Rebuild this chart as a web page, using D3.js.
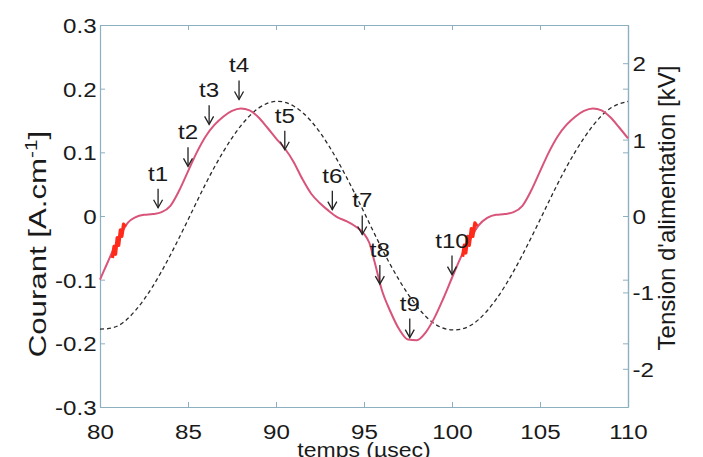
<!DOCTYPE html>
<html><head><meta charset="utf-8">
<script src="https://cdn.jsdelivr.net/npm/d3@7"></script>
<style>
body{margin:0;background:#fff}
svg{display:block}
text{font-family:"Liberation Sans",Arial,Helvetica,sans-serif;fill:#1a1a1a}
</style>
</head><body>
<svg id="chart" width="703" height="457"></svg>
<script>
// ---- data ----
const timeCur = [80,80.4,80.8,81.2,81.6,82,82.5,83,83.5,84,84.5,85,85.5,86,86.5,87,87.5,88,88.5,89,89.5,90,90.5,91,91.5,92,92.5,93,93.5,94,94.5,95,95.3,95.6,96,96.5,97,97.5,98,98.5,99,99.5,100,100.5,101,101.5,102,102.5,103,103.5,104,104.5,105,105.5,106,106.5,107,107.5,108,108.5,109,109.5,110];
const current = [-0.1,-0.075,-0.05,-0.028,-0.01,-0.002,0.002,0.003,0.006,0.016,0.04,0.07,0.1,0.125,0.143,0.156,0.165,0.169,0.166,0.155,0.139,0.122,0.106,0.085,0.058,0.035,0.02,0.008,-0.002,-0.008,-0.016,-0.028,-0.042,-0.072,-0.115,-0.15,-0.178,-0.194,-0.195,-0.183,-0.16,-0.13,-0.097,-0.065,-0.038,-0.015,-0.003,0.002,0.003,0.006,0.016,0.04,0.07,0.1,0.125,0.143,0.156,0.165,0.169,0.166,0.155,0.139,0.122];

const timeVolt = [80,81,82,83,84,85,86,87,88,89,90,91,92,93,94,95,96,97,98,99,100,101,102,103,104,105,106,107,108,109,110];
const voltage = [-1.48,-1.44,-1.24,-0.92,-0.51,-0.05,0.42,0.84,1.18,1.41,1.5,1.44,1.24,0.92,0.51,0.05,-0.42,-0.84,-1.18,-1.41,-1.49,-1.44,-1.24,-0.92,-0.51,-0.05,0.42,0.84,1.18,1.41,1.5];

const spike1Time = [80.7,80.8,80.88,80.98,81.06,81.16,81.24,81.34,81.45];
const spike1Cur  = [-0.066,-0.048,-0.06,-0.034,-0.046,-0.022,-0.032,-0.013,-0.017];
const spike2Time = [100.6,100.7,100.78,100.9,100.98,101.1,101.18,101.3,101.42];
const spike2Cur  = [-0.064,-0.046,-0.058,-0.032,-0.046,-0.02,-0.032,-0.011,-0.016];

const markLabels = ["t1","t2","t3","t4","t5","t6","t7","t8","t9","t10"];
const markTime   = [83.3,85.0,86.2,87.9,90.5,93.2,94.9,95.9,97.6,100.0];
const markCur    = [0.013,0.078,0.144,0.183,0.104,0.010,-0.029,-0.107,-0.191,-0.092];

const xTicks = [80,85,90,95,100,105,110];
const yLeftTicks = [-0.3,-0.2,-0.1,0,0.1,0.2,0.3];
const yRightTicks = [-2,-1,0,1,2];

// ---- layout ----
const L = 100, R = 628, T = 25, B = 407;
const SX = 1.15;         // horizontal stretch of the glyphs in the reference
const axisCol = "#8db0c0";
const curCol = "#d9547a";

const svg = d3.select("#chart");
const x = d3.scaleLinear().domain([80,110]).range([L,R]);
const yL = d3.scaleLinear().domain([-0.3,0.3]).range([B,T]);
const yR = d3.scaleLinear().domain([-2.5,2.5]).range([B,T]);

function styleAxis(g){
  g.selectAll("path.domain").attr("stroke", axisCol).attr("stroke-width",1.2);
  g.selectAll(".tick line").attr("stroke", axisCol).attr("stroke-width",1);
  g.selectAll(".tick text").style("font-size","21px").attr("fill","#1a1a1a");
}

// bottom
const gB = svg.append("g").attr("transform",`translate(0,${B})`)
  .call(d3.axisBottom(x).tickValues(xTicks).tickSize(-5).tickSizeOuter(0).tickFormat(d=>String(d)));
styleAxis(gB);
gB.selectAll(".tick text").attr("y",32).attr("dy",0).attr("transform",`scale(${SX},1)`);
// top (mirror)
const gT = svg.append("g").attr("transform",`translate(0,${T})`)
  .call(d3.axisTop(x).tickValues(xTicks).tickSize(-5).tickSizeOuter(0).tickFormat(""));
styleAxis(gT);
// left
const gL = svg.append("g").attr("transform",`translate(${L},0)`)
  .call(d3.axisLeft(yL).tickValues(yLeftTicks).tickSize(-5).tickSizeOuter(0)
    .tickFormat(d=> d===0 ? "0" : d.toFixed(1)));
styleAxis(gL);
gL.selectAll(".tick text").attr("x",-3).attr("dy",0).attr("y",7.5).attr("transform",`scale(${SX},1)`);
// right mirror of left ticks
const gRm = svg.append("g").attr("transform",`translate(${R},0)`)
  .call(d3.axisRight(yL).tickValues(yLeftTicks).tickSize(-5).tickSizeOuter(0).tickFormat(""));
styleAxis(gRm);
// right axis
const gR = svg.append("g").attr("transform",`translate(${R},0)`)
  .call(d3.axisRight(yR).tickValues(yRightTicks).tickSize(-5).tickSizeOuter(0).tickFormat(d=>String(d)));
styleAxis(gR);
gR.selectAll(".tick text").attr("x",4).attr("dy",0).attr("y",7.5).attr("transform",`scale(${SX},1)`);

// ---- voltage (dashed) ----
const voltPts = timeVolt.map((t,i)=>[t,voltage[i]]);
svg.append("path").datum(voltPts)
  .attr("d", d3.line().x(d=>x(d[0])).y(d=>yR(d[1])).curve(d3.curveNatural))
  .attr("fill","none").attr("stroke","#2a2a2a").attr("stroke-width",1.3)
  .attr("stroke-dasharray","4,3");

// ---- current ----
const curPts = timeCur.map((t,i)=>[t,current[i]]);
svg.append("path").datum(curPts)
  .attr("d", d3.line().x(d=>x(d[0])).y(d=>yL(d[1])).curve(d3.curveMonotoneX))
  .attr("fill","none").attr("stroke",curCol).attr("stroke-width",2);

// ---- discharge spikes ----
[[spike1Time,spike1Cur],[spike2Time,spike2Cur]].forEach(([ts,vs])=>{
  svg.append("path").datum(ts.map((t,i)=>[t,vs[i]]))
    .attr("d", d3.line().x(d=>x(d[0])).y(d=>yL(d[1])))
    .attr("fill","none").attr("stroke","#ff2a1a").attr("stroke-width",3.4)
    .attr("stroke-linejoin","round");
});

// ---- annotations ----
markLabels.forEach((lab,i)=>{
  const px = x(markTime[i]), py = yL(markCur[i]);
  const g = svg.append("g");
  g.append("line").attr("x1",px).attr("x2",px).attr("y1",py-19).attr("y2",py)
    .attr("stroke","#222").attr("stroke-width",1.3);
  g.append("path").attr("d",`M${px-4.5},${py-8}L${px},${py}L${px+4.5},${py-8}`)
    .attr("fill","none").attr("stroke","#222").attr("stroke-width",1.3);
  g.append("g").attr("transform",`translate(${px},${py-27}) scale(${SX},1)`)
    .append("text").attr("text-anchor","middle").style("font-size","21px").text(lab);
});

// ---- axis titles ----
svg.append("g").attr("transform",`translate(${(L+R)/2},457) scale(${SX},1)`)
  .append("text").attr("text-anchor","middle").style("font-size","20px").text("temps (µsec)");

const yl = svg.append("g").attr("transform","translate(46,244) rotate(-90) scale(1.3,1)")
  .append("text").attr("text-anchor","middle").style("font-size","24px");
yl.append("tspan").text("Courant [A.cm");
yl.append("tspan").attr("dy",-9).style("font-size","16px").text("-1");
yl.append("tspan").attr("dy",9).text("]");

svg.append("g").attr("transform","translate(675,208) rotate(-90)")
  .append("text").attr("text-anchor","middle").style("font-size","24px")
  .text("Tension d'alimentation [kV]");
</script>
</body></html>
